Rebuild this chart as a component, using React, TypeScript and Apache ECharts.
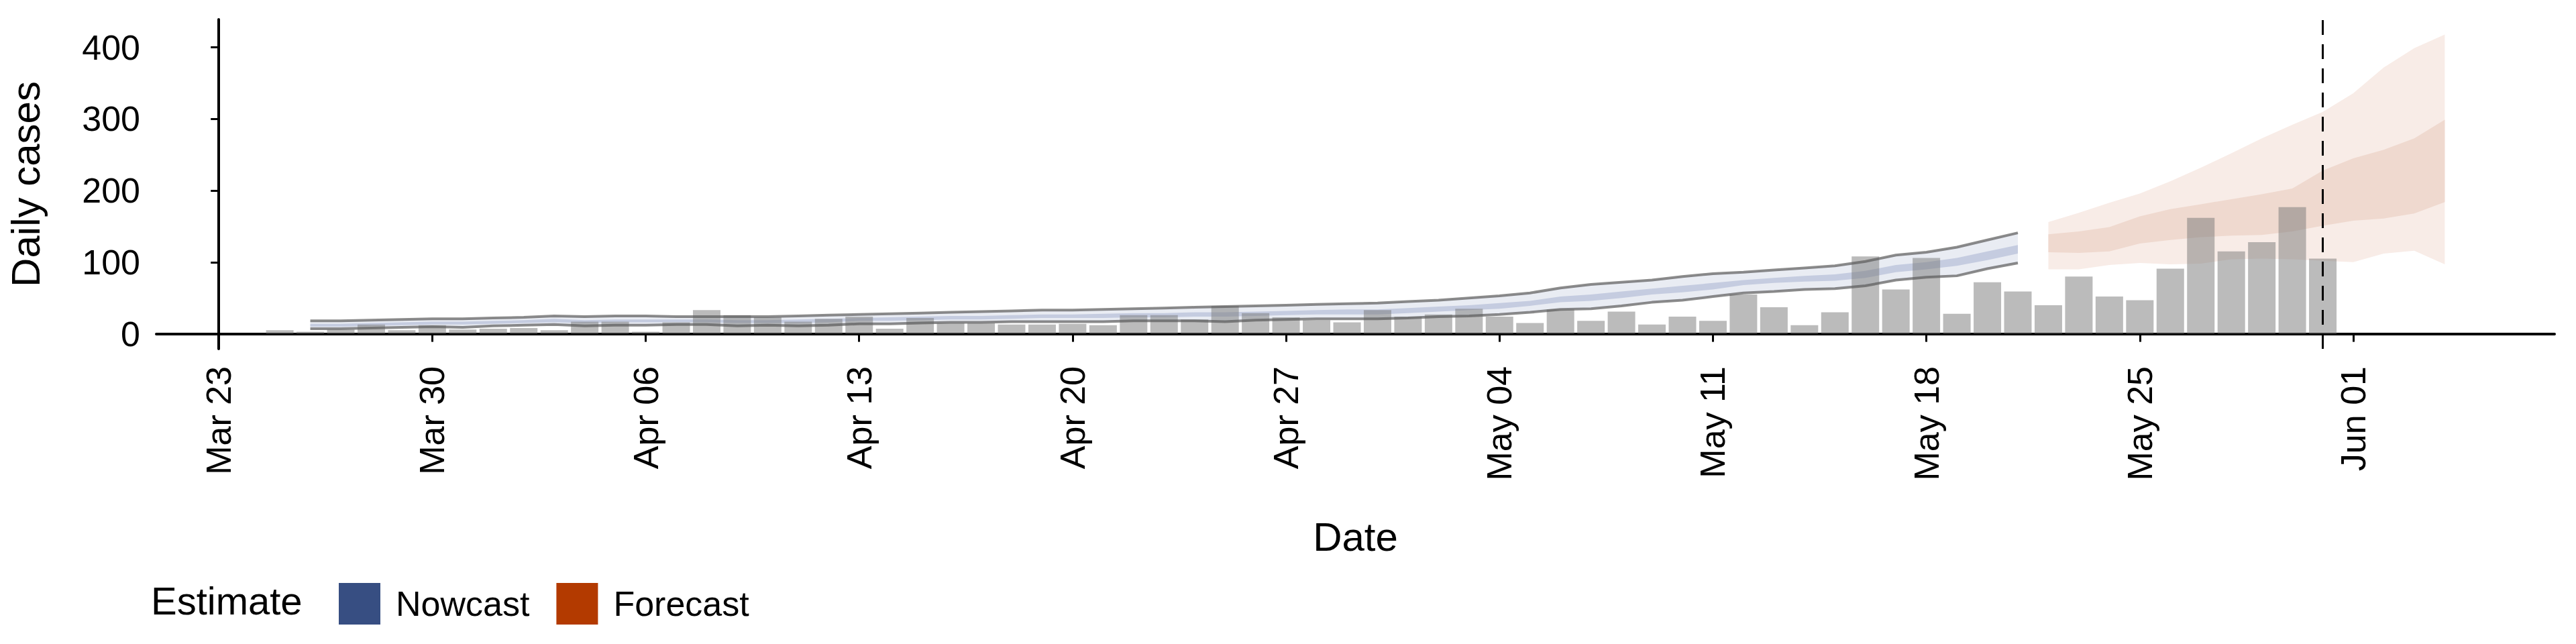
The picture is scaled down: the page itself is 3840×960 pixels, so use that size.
import { useEffect, useRef } from 'react';
import * as echarts from 'echarts';

// day index 0 = Mar 23
const tickDays = [0, 7, 14, 21, 28, 35, 42, 49, 56, 63, 70];
const tickLabels = ['Mar 23', 'Mar 30', 'Apr 06', 'Apr 13', 'Apr 20', 'Apr 27', 'May 04', 'May 11', 'May 18', 'May 25', 'Jun 01'];

// reported cases, Mar 25 .. May 31
const caseStart = 2;
const cases = [
  5, 3, 6, 13, 5, 12, 6, 7, 8, 5, 17, 17, 3, 16, 33, 26, 23, 17, 21, 24,
  7, 22, 15, 15, 13, 13, 14, 12, 26, 26, 20, 39, 29, 23, 19, 16, 33, 24, 27, 35,
  24, 15, 34, 18, 31, 13, 24, 18, 55, 37, 12, 30, 108, 62, 106, 28, 72, 59, 40, 80,
  52, 47, 91, 162, 115, 128, 177, 105,
];

// nowcast, Mar 26 .. May 21
const nowStart = 3;
const nowHi90 = [
  18, 18, 19, 20, 21, 21, 22, 23, 25, 24, 25, 25, 24, 24, 24, 24, 25, 26, 27, 28,
  29, 30, 31, 32, 33, 33, 34, 35, 36, 37, 38, 39, 40, 41, 42, 43, 45, 47, 50, 53,
  57, 64, 69, 72, 75, 80, 84, 86, 89, 92, 95, 101, 110, 114, 121, 131, 141,
];
const nowLo90 = [
  7, 7, 8, 9, 10, 9, 11, 12, 13, 11, 12, 12, 13, 13, 11, 12, 11, 12, 14, 14,
  15, 16, 16, 17, 17, 17, 17, 18, 18, 18, 17, 19, 20, 21, 21, 21, 22, 24, 25, 27,
  30, 34, 35, 39, 44, 47, 52, 57, 59, 62, 63, 67, 75, 79, 81, 91, 99,
];
const nowHi50 = [
  14, 14, 15, 16, 17, 17, 18, 19, 21, 19, 20, 20, 20, 20, 19, 19, 20, 21, 22, 23,
  24, 25, 25, 26, 27, 27, 28, 29, 29, 30, 30, 31, 32, 33, 34, 34, 36, 38, 40, 43,
  46, 52, 55, 59, 63, 67, 71, 75, 78, 81, 83, 88, 96, 100, 106, 115, 124,
];
const nowLo50 = [
  10, 10, 11, 12, 13, 13, 14, 15, 16, 15, 16, 16, 16, 16, 15, 15, 15, 16, 18, 18,
  19, 20, 20, 21, 22, 22, 22, 23, 23, 24, 24, 25, 26, 27, 27, 27, 29, 31, 33, 35,
  39, 44, 46, 50, 55, 58, 62, 68, 71, 73, 74, 78, 86, 90, 95, 103, 112,
];

// forecast, May 22 .. Jun 04
const fcStart = 60;
const fcHi90 = [156, 169, 183, 196, 213, 232, 252, 273, 292, 310, 336, 372, 399, 418];
const fcHi50 = [139, 143, 149, 164, 174, 181, 188, 195, 203, 228, 245, 257, 273, 299];
const fcLo50 = [114, 113, 115, 126, 131, 135, 137, 138, 143, 151, 158, 161, 168, 184];
const fcLo90 = [90, 90, 96, 99, 97, 98, 104, 105, 104, 102, 100, 112, 116, 97];

const forecastDate = 69; // May 31

const pts = (start: number, vals: number[]) => vals.map((v, i) => [start + i, v]);

// ribbon between lo and hi, drawn as one polygon
function band(name: string, start: number, hi: number[], lo: number[], color: string) {
  const rows = hi.map((v, i) => [start + i, lo[i], v]);
  return {
    type: 'custom', name, silent: true, data: rows,
    encode: { x: 0, y: [1, 2] },
    itemStyle: { color },
    renderItem: (params: any, api: any) => {
      if (params.dataIndex !== 0) return null;
      const top = rows.map((r) => api.coord([r[0], r[2]]));
      const bottom = rows.map((r) => api.coord([r[0], r[1]])).reverse();
      return {
        type: 'polygon',
        shape: { points: [...top, ...bottom] },
        style: { fill: color },
      };
    },
  };
}

export default function App() {
  const chartRef = useRef<HTMLDivElement>(null);

  useEffect(() => {
    document.body.style.margin = '0';
    if (!chartRef.current) return;
    const chart = echarts.init(chartRef.current, null, { renderer: 'svg' });
    const font = 'Liberation Sans, Arial, sans-serif';

    const grayLine = (data: number[][]) => ({
      type: 'line', symbol: 'none', silent: true, data,
      lineStyle: { color: 'rgba(90,90,90,0.7)', width: 4 },
    });

    chart.setOption({
      animation: false,
      textStyle: { fontFamily: font },
      grid: { left: 223, right: 32, top: 29, bottom: 440 },
      xAxis: {
        type: 'value', min: -2.05, max: 76.6,
        name: 'Date', nameLocation: 'middle', nameGap: 250,
        nameTextStyle: { fontSize: 60, color: '#000' },
        axisLine: { lineStyle: { color: '#000', width: 4 } },
        axisTick: { length: 12, lineStyle: { color: '#000', width: 3 }, customValues: tickDays },
        axisLabel: {
          rotate: 90, fontSize: 52, color: '#000', margin: 26,
          customValues: tickDays,
          formatter: (v: number) => tickLabels[tickDays.indexOf(Math.round(v))] ?? '',
        },
        splitLine: { show: false },
      },
      yAxis: {
        type: 'value', min: -21, max: 439,
        name: 'Daily cases', nameLocation: 'middle', nameGap: 165,
        nameTextStyle: { fontSize: 60, color: '#000' },
        axisLine: { show: true, lineStyle: { color: '#000', width: 4 } },
        axisTick: { show: true, length: 12, lineStyle: { color: '#000', width: 3 }, customValues: [0, 100, 200, 300, 400] },
        axisLabel: { fontSize: 52, color: '#000', margin: 24, customValues: [0, 100, 200, 300, 400] },
        splitLine: { show: false },
      },
      legend: {
        left: 500, top: 864, itemWidth: 62, itemHeight: 62, itemGap: 40,
        icon: 'rect', selectedMode: false,
        textStyle: { fontSize: 52, color: '#000', fontFamily: font, padding: [0, 0, 0, 18] },
        data: [
          { name: 'Nowcast', itemStyle: { color: '#374e82' } },
          { name: 'Forecast', itemStyle: { color: '#b33a00' } },
        ],
      },
      graphic: [
        { type: 'text', left: 225, top: 866, style: { text: 'Estimate', fontSize: 58, fill: '#000', fontFamily: font } },
      ],
      series: [
        band('Nowcast_outer', nowStart, nowHi90, nowLo90, '#e9ecf3'),
        band('Nowcast', nowStart, nowHi50, nowLo50, '#c5cce0'),
        band('Forecast_outer', fcStart, fcHi90, fcLo90, '#f8ece7'),
        band('Forecast', fcStart, fcHi50, fcLo50, '#efd9cf'),
        grayLine(pts(nowStart, nowHi90)),
        grayLine(pts(nowStart, nowLo90)),
        {
          type: 'bar', silent: true, barWidth: 41,
          data: pts(caseStart, cases),
          itemStyle: { color: 'rgba(120,120,120,0.5)' },
          markLine: {
            symbol: 'none', silent: true, label: { show: false },
            lineStyle: { color: '#000', type: [22, 14], width: 3 },
            data: [{ xAxis: forecastDate }],
          },
        },
      ],
    });

    return () => chart.dispose();
  }, []);

  return <div ref={chartRef} style={{ width: 3840, height: 960 }} />;
}
